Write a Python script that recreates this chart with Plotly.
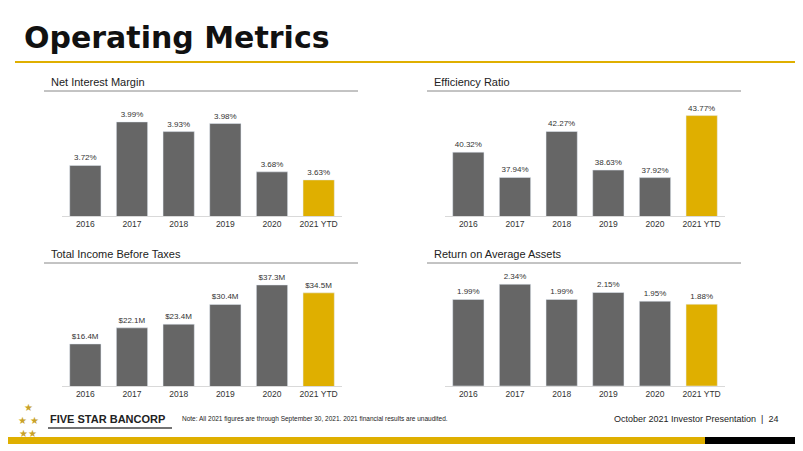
import plotly.graph_objects as go

years = ["2016", "2017", "2018", "2019", "2020", "2021 YTD"]
nim = [3.72, 3.99, 3.93, 3.98, 3.68, 3.63]
nim_labels = ["3.72%", "3.99%", "3.93%", "3.98%", "3.68%", "3.63%"]
eff = [40.32, 37.94, 42.27, 38.63, 37.92, 43.77]
eff_labels = ["40.32%", "37.94%", "42.27%", "38.63%", "37.92%", "43.77%"]
inc = [16.4, 22.1, 23.4, 30.4, 37.3, 34.5]
inc_labels = ["$16.4M", "$22.1M", "$23.4M", "$30.4M", "$37.3M", "$34.5M"]
roaa = [1.99, 2.34, 1.99, 2.15, 1.95, 1.88]
roaa_labels = ["1.99%", "2.34%", "1.99%", "2.15%", "1.95%", "1.88%"]

GRAY = "#666666"
GOLD = "#DFAF00"
colors = [GRAY] * 5 + [GOLD]
OFF = 8
W, H = 803 - OFF, 451 - OFF


def px(x):
    return (x - OFF) / W


def py(y):
    return 1 - (y - OFF) / H


panels = [
    (nim, nim_labels, "Net Interest Margin", [62, 342], [100, 216], [3.406, 4.126]),
    (eff, eff_labels, "Efficiency Ratio", [445, 725], [100, 216], [34.3, 45.24]),
    (inc, inc_labels, "Total Income Before Taxes", [62, 342], [270, 386], [1.5, 42.6]),
    (roaa, roaa_labels, "Return on Average Assets", [445, 725], [270, 386], [0, 2.667]),
]

fig = go.Figure()
layout = dict(width=W, height=H, margin=dict(l=0, r=0, t=0, b=0),
              paper_bgcolor="white", plot_bgcolor="white", showlegend=False,
              font=dict(family="Liberation Sans", color="#333333"), bargap=0.33)
annotations, shapes = [], []
for i, (vals, labs, title, xs, ys, rng) in enumerate(panels):
    n = "" if i == 0 else str(i + 1)
    fig.add_trace(go.Bar(x=years, y=vals, text=labs, textposition="outside",
                         textfont=dict(size=8, color="#333333"), cliponaxis=False,
                         marker=dict(color=colors), xaxis="x" + n, yaxis="y" + n))
    layout["xaxis" + n] = dict(domain=[px(xs[0]), px(xs[1])], anchor="y" + n,
                               tickfont=dict(size=8.5, color="#333333"), showline=True,
                               linecolor="#d9d9d9", ticks="", fixedrange=True)
    layout["yaxis" + n] = dict(domain=[py(ys[1]), py(ys[0])], anchor="x" + n,
                               range=rng, visible=False, showgrid=False)
    tx = xs[0] - 13
    ty = ys[0] - 18 if i < 2 else ys[0] - 16
    annotations.append(dict(text=title, x=px(tx), y=py(ty), xref="paper", yref="paper",
                            xanchor="left", yanchor="middle", showarrow=False,
                            font=dict(size=11, color="#222222")))
    shapes.append(dict(type="line", xref="paper", yref="paper", x0=px(tx - 5), x1=px(xs[1] + 16),
                       y0=py(ty + 9), y1=py(ty + 9), line=dict(color="#888888", width=1)))

annotations += [
    dict(text="<b>Operating Metrics</b>", x=px(22), y=py(38), xref="paper", yref="paper",
         xanchor="left", yanchor="middle", showarrow=False,
         font=dict(size=30, color="#111111", family="DejaVu Sans")),
    dict(text="<b>FIVE STAR BANCORP</b>", x=px(48), y=py(419), xref="paper", yref="paper",
         xanchor="left", yanchor="middle", showarrow=False, font=dict(size=11, color="#222222")),
    dict(text="Note: All 2021 figures are through September 30, 2021. 2021 financial results are unaudited.",
         x=px(180), y=py(419), xref="paper", yref="paper", xanchor="left", yanchor="middle",
         showarrow=False, font=dict(size=6.5, color="#222222")),
    dict(text="October 2021 Investor Presentation  |  24", x=px(780), y=py(419), xref="paper",
         yref="paper", xanchor="right", yanchor="middle", showarrow=False,
         font=dict(size=9, color="#222222")),
    dict(text="★<br>★ ★<br>★★", x=px(28), y=py(420), xref="paper", yref="paper",
         xanchor="center", yanchor="middle", showarrow=False,
         font=dict(size=10, color="#C9A227"), align="center"),
]
shapes += [
    dict(type="line", xref="paper", yref="paper", x0=px(15), x1=1, y0=py(62), y1=py(62),
         line=dict(color=GOLD, width=2)),
    dict(type="line", xref="paper", yref="paper", x0=px(48), x1=px(172), y0=py(428), y1=py(428),
         line=dict(color="#444444", width=1.5)),
    dict(type="rect", xref="paper", yref="paper", x0=0, x1=px(705), y0=py(444), y1=py(437),
         line=dict(width=0), fillcolor=GOLD),
    dict(type="rect", xref="paper", yref="paper", x0=px(705), x1=1, y0=py(444), y1=py(437),
         line=dict(width=0), fillcolor="#000000"),
]
layout["annotations"] = annotations
layout["shapes"] = shapes
fig.update_layout(**layout)
fig.write_html("out.html")
